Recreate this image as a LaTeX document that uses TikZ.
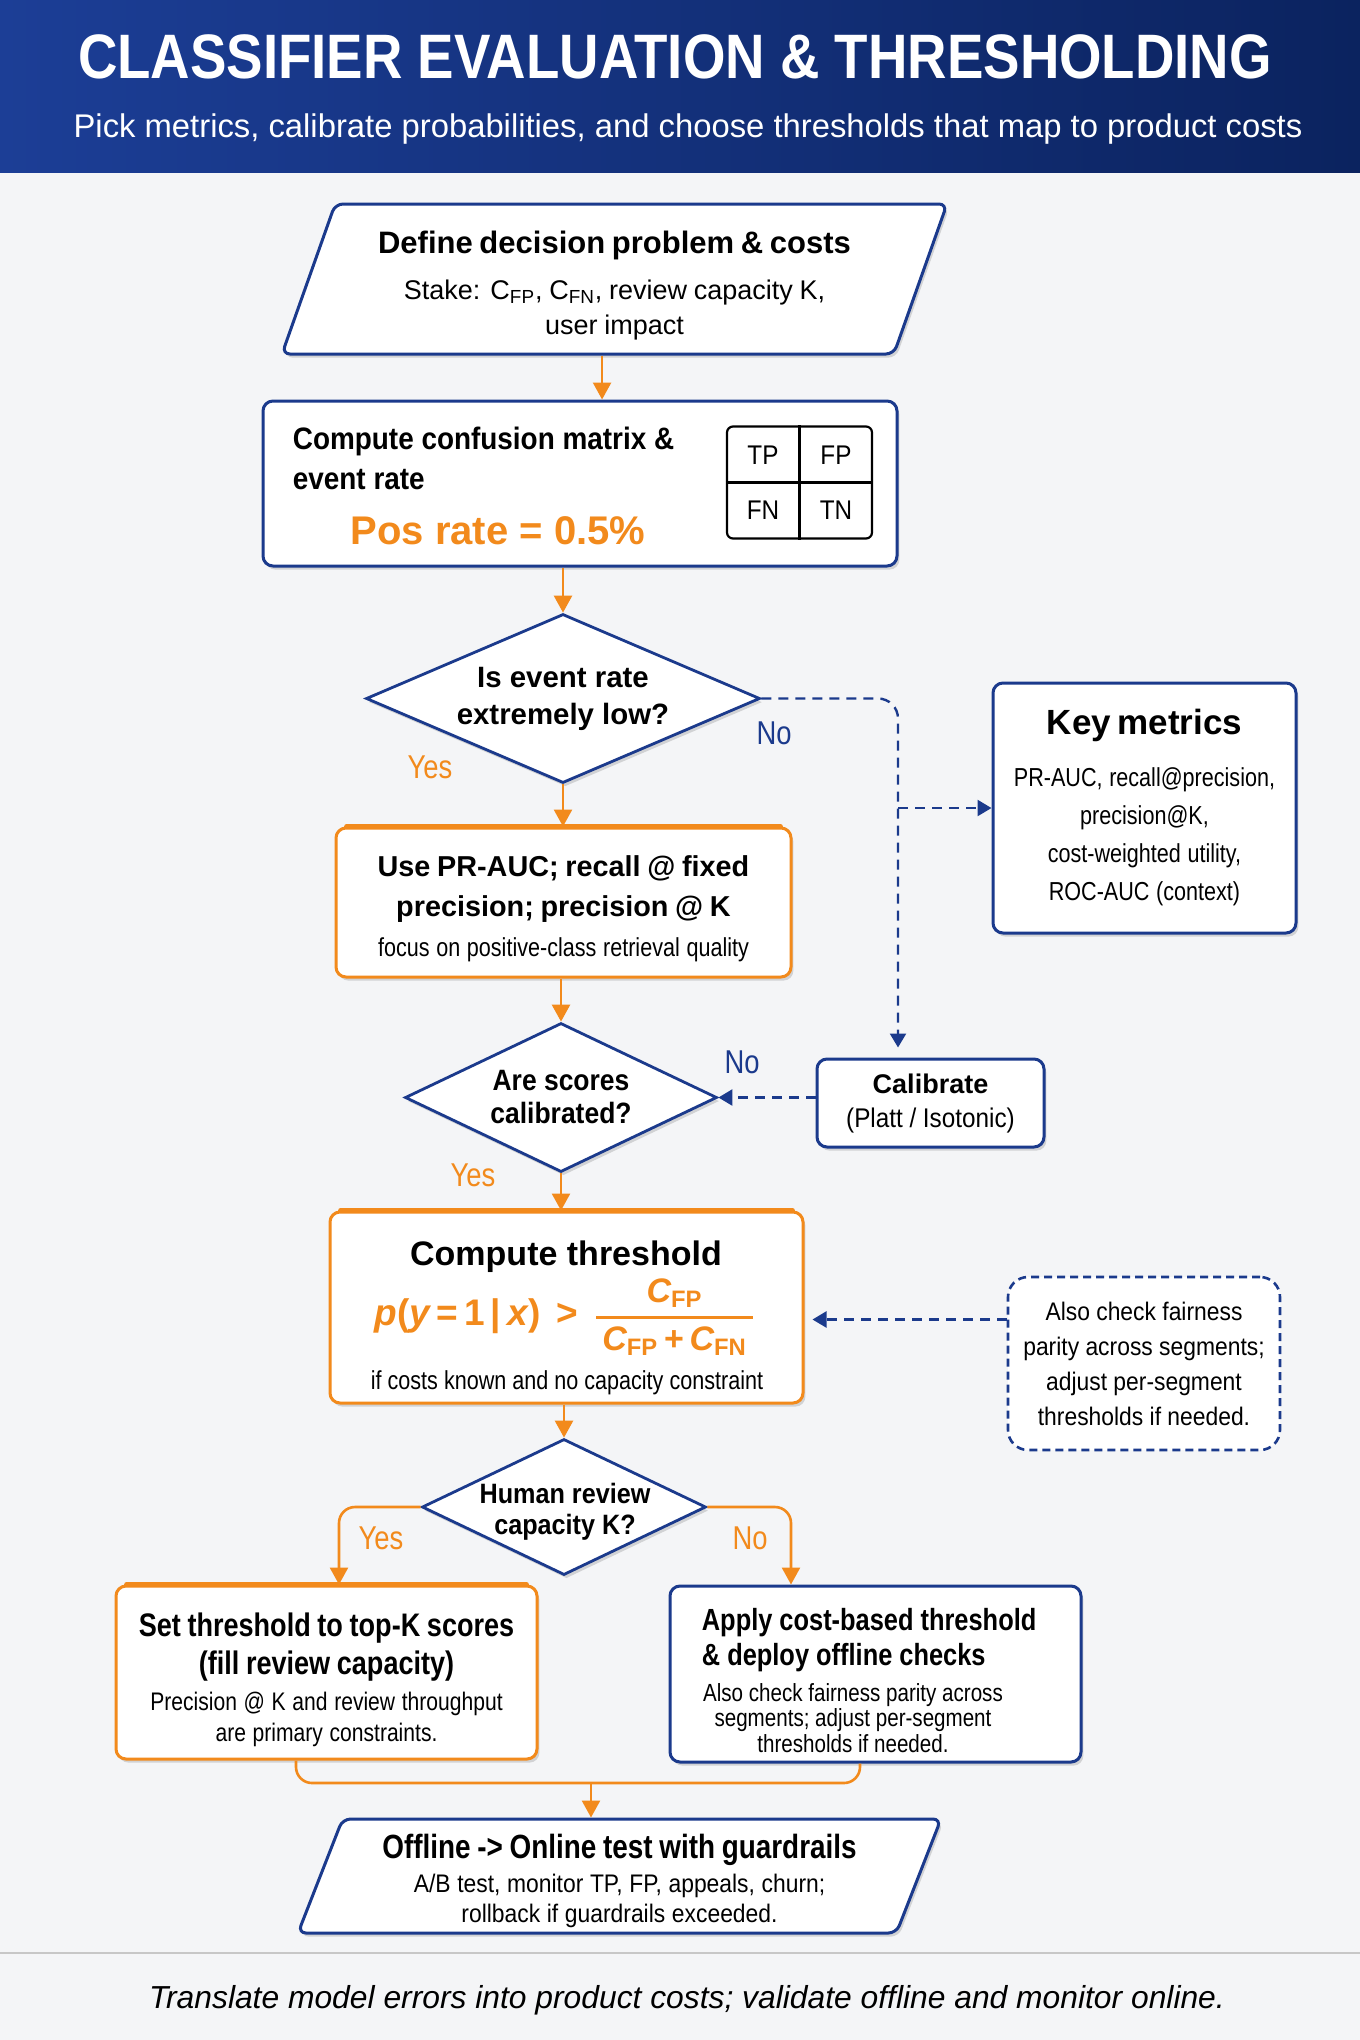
\documentclass[tikz,border=0pt]{standalone}
\usepackage{fontspec}
\usepackage{amsmath}
\setmainfont{Liberation Sans}
\newfontfamily\cnd[FakeStretch=0.9]{Liberation Sans}
\newfontfamily\ncd[FakeStretch=0.83]{Liberation Sans}
\newfontfamily\hdf[FakeStretch=0.87]{Liberation Sans}
\usetikzlibrary{positioning,shapes.geometric,arrows.meta,shadows}
\setlength{\parindent}{0pt}

\definecolor{navy}{RGB}{27,58,140}
\definecolor{accent}{RGB}{242,138,28}
\definecolor{paper}{RGB}{244,245,247}
\definecolor{hdrleft}{RGB}{28,62,150}
\definecolor{hdrright}{RGB}{11,35,95}

\newcommand{\fs}[2]{\fontsize{#1}{#2}\selectfont}
\newcommand{\csub}[1]{\textsubscript{#1}}
\newcommand{\lift}[1]{\rule{0pt}{#1}}

\tikzset{
  softshadow/.style={drop shadow={shadow xshift=1.2pt,shadow yshift=-1.8pt,opacity=.14,fill=black}},
  navybox/.style={draw=navy, line width=1.5pt, rounded corners=5pt, fill=white, softshadow, align=center, inner sep=0pt},
  orangebox/.style={navybox, draw=accent},
  notebox/.style={draw=navy, line width=1.3pt, dash pattern=on 4pt off 2.5pt, rounded corners=10pt, fill=white, align=center, inner sep=0pt},
  decision/.style={diamond, draw=navy, line width=1.4pt, fill=white, softshadow, inner sep=0pt, align=center},
  iobox/.style={trapezium, trapezium left angle=66.5, trapezium right angle=113.5, trapezium stretches body,
    draw=navy, line width=1.5pt, rounded corners=4pt, fill=white, softshadow, inner sep=0pt, align=center},
  txt/.style={inner sep=0pt, align=center},
  cell/.style={txt, font=\cnd\fs{13.5}{16}},
  yeslbl/.style={txt, text=accent, font=\ncd\fs{16.5}{18}},
  nolbl/.style={txt, text=navy, font=\ncd\fs{16.5}{18}},
  flow/.style={draw=accent, line width=1.3pt, -{Triangle[length=8.5pt,width=9pt]}},
  dflow/.style={draw=navy, line width=1.2pt, dash pattern=on 5pt off 3.5pt, -{Triangle[length=7pt,width=8pt]}},
}

\begin{document}
\begin{tikzpicture}[x=0.5pt, y=-0.5pt]
\useasboundingbox (0,0) rectangle (1360,2040);
\fill[paper] (0,0) rectangle (1360,2040);

% header
\shade[left color=hdrleft, right color=hdrright] (0,0) rectangle (1360,172);
\node[txt, anchor=base, text=white, font=\hdf\bfseries\fs{31.4}{36}] (title) at (675,78) {CLASSIFIER EVALUATION \& THRESHOLDING};
\node[txt, anchor=base, text=white, font=\fs{16.4}{20}] (subtitle) at (688,137) {Pick metrics, calibrate probabilities, and choose thresholds that map to product costs};

% main column
\node[iobox, minimum width=332.5pt, minimum height=75pt, text width=250pt] (define) at (614.5,279)
  {{\bfseries\fs{15.5}{18}\lift{17.8pt}Define decision problem \& costs\par}\vspace{5.5pt}
   {\fs{13.5}{17.5}Stake: C\csub{FP}, C\csub{FN}, review capacity K,\\user impact\par}};

\node[navybox, minimum width=317pt, minimum height=82.5pt] (cbox) at (580,483.5) {};
\node[txt, align=left, font=\cnd\bfseries\fs{15.5}{20}, below right=13.5pt and 15.5pt of cbox.north west] (cmtitle) {Compute confusion matrix \&\\event rate};
\node[txt, text=accent, font=\bfseries\fs{20}{24}] (posrate) at (498,531) {Pos rate = 0.5\%};
\node[draw, line width=1.1pt, rounded corners=3pt, fill=white, minimum width=72.5pt, minimum height=56pt, inner sep=0pt] (cm) at (799.5,482.5) {};
\draw[line width=1.1pt] (cm.north) -- (cm.south) (cm.west) -- (cm.east);
\node[cell] (mtp) at (763,455) {TP};
\node[cell] (mfp) at (836,455) {FP};
\node[cell] (mfn) at (763,510) {FN};
\node[cell] (mtn) at (836,510) {TN};

\node[decision, minimum width=197pt, minimum height=84.5pt, aspect=2.33, font=\bfseries\fs{14.7}{18.5}] (isrow) at (563,698.5) {Is event rate\\extremely low?};
\node[nolbl] (lno1) at (774,733) {No};
\node[yeslbl] (lyes1) at (430,767) {Yes};

\node[orangebox, minimum width=227.5pt, minimum height=74.5pt, text width=210pt] (prauc) at (563.5,902.5)
  {{\bfseries\fs{14.4}{20}\lift{17pt}Use PR-AUC; recall @ fixed\\precision; precision @ K\par}\vspace{4.9pt}
   {\ncd\fs{13}{15}focus on positive-class retrieval quality\par}};

\node[navybox, minimum width=151.5pt, minimum height=125pt, text width=140pt] (keym) at (1144.5,808)
  {{\bfseries\fs{17.5}{20}Key metrics\par}\vspace{7pt}
   {\ncd\fs{13}{19}PR-AUC, recall@precision,\\precision@K,\\cost-weighted utility,\\ROC-AUC (context)\par}};

\node[decision, minimum width=156pt, minimum height=74.5pt, aspect=2.1, font=\cnd\bfseries\fs{14.7}{16.5}] (calq) at (561,1097.5) {Are scores\\calibrated?};
\node[nolbl] (lno2) at (742,1062) {No};
\node[yeslbl] (lyes2) at (473,1175) {Yes};

\node[navybox, minimum width=113.5pt, minimum height=44pt, text width=105pt] (calib) at (930.5,1103)
  {{\bfseries\fs{13.5}{15}Calibrate\par}\vspace{2pt}
   {\cnd\fs{13.5}{15}(Platt / Isotonic)\par}};

\node[orangebox, minimum width=236.5pt, minimum height=95.5pt] (thresh) at (566.5,1307.5) {};
\node[txt, anchor=base, font=\bfseries\fs{17}{20}] (threshttl) at (566,1265) {Compute threshold};
\node[txt, text=accent] (rule) at (565,1317)
  {\bfseries\fs{18.5}{22}\itshape p\upshape(\itshape y\upshape\,=\,1\,|\,\itshape x\upshape)\hspace{8pt}>\hspace{8pt}%
   $\genfrac{}{}{1.3pt}{0}{\mbox{\fs{17}{20}\itshape C\upshape\textsubscript{FP}}}{\mbox{\fs{17}{20}\kern3pt\itshape C\upshape\textsubscript{FP}\,+\,\itshape C\upshape\textsubscript{FN}\kern3pt}}$};
\node[txt, font=\ncd\fs{13}{15}] (threshnote) at (567,1383) {if costs known and no capacity constraint};

\node[notebox, minimum width=136pt, minimum height=86.5pt, font=\cnd\fs{12.7}{17.5}] (fair) at (1144,1363.5)
  {Also check fairness\\parity across segments;\\adjust per-segment\\thresholds if needed.};

\node[decision, minimum width=142pt, minimum height=68pt] (humq) at (564,1507) {};
\node[txt, font=\cnd\bfseries\fs{14}{15.5}] (humqtxt) at (565,1512) {Human review\\capacity K?};
\node[yeslbl] (lyes3) at (381,1538) {Yes};
\node[yeslbl] (lno3) at (750,1538) {No};

\node[orangebox, minimum width=210.5pt, minimum height=86.5pt, text width=200pt] (topk) at (326.5,1672.5)
  {{\ncd\bfseries\fs{16.3}{19}\lift{19.4pt}Set threshold to top-K scores\\(fill review capacity)\par}\vspace{2.7pt}
   {\ncd\fs{12.7}{15.5}Precision @ K and review throughput\\are primary constraints.\par}};

\node[navybox, minimum width=205.5pt, minimum height=88pt] (apply) at (875.5,1674) {};
\node[txt, align=left, font=\ncd\bfseries\fs{15.3}{17.5}, below right=11.5pt and 16.5pt of apply.north west] (applyttl) {Apply cost-based threshold\\\& deploy offline checks};
\node[txt, font=\ncd\fs{12.4}{12.8}] (applynote) at (853,1718) {Also check fairness parity across\\segments; adjust per-segment\\thresholds if needed.};

\node[iobox, minimum width=321.5pt, minimum height=57pt, text width=250pt] (online) at (619.5,1876)
  {{\ncd\bfseries\fs{16.8}{19}\lift{16.9pt}Offline -> Online test with guardrails\par}\vspace{1.75pt}
   {\cnd\fs{12.7}{15}A/B test, monitor TP, FP, appeals, churn;\\rollback if guardrails exceeded.\par}};

% thicker top edge on the orange boxes
\foreach \bx in {prauc,thresh,topk}
  \draw[accent, line width=2.4pt, line cap=round] ([xshift=6pt]\bx.north west) -- ([xshift=-6pt]\bx.north east);

% connectors
\draw[flow] ([xshift=-6.25pt]define.south) -- ([xshift=-6.25pt]define.south |- cbox.north);
\draw[flow] (cbox.south -| isrow.north) -- (isrow.north);
\draw[flow] (isrow.south) -- (isrow.south |- prauc.north);
\draw[flow] (calq.north |- prauc.south) -- (calq.north);
\draw[flow] (calq.south) -- (calq.south |- thresh.north);
\draw[flow] (thresh.south -| humq.north) -- (humq.north);
\draw[flow, rounded corners=8pt] (humq.west) -| ([xshift=6.25pt]topk.north);
\draw[flow, rounded corners=8pt] (humq.east) -| ([xshift=-42.25pt]apply.north);
\coordinate (merge) at (591,1783);
\draw[accent, line width=1.3pt, rounded corners=8pt] ([xshift=-15.25pt]topk.south) |- (merge) -| ([xshift=-7.75pt]apply.south);
\draw[flow] (merge) -- (merge |- online.north);

\coordinate (nobend) at (898,808);
\draw[dflow, rounded corners=10pt, shorten >=5pt] (isrow.east) -| (nobend |- calib.north);
\draw[dflow] (nobend) -- (keym.west);
\draw[dflow] (calib.west |- calq.east) -- (calq.east);
\coordinate (threshin) at ([yshift=-6pt]thresh.east);
\draw[dflow, shorten >=4pt] (fair.west |- threshin) -- (threshin);

% footer
\draw[black!22, line width=1pt] (0,1953) -- (1360,1953);
\node[txt, anchor=base, font=\itshape\fs{15.9}{18}] (footer) at (687,2008) {Translate model errors into product costs; validate offline and monitor online.};
\end{tikzpicture}
\end{document}
